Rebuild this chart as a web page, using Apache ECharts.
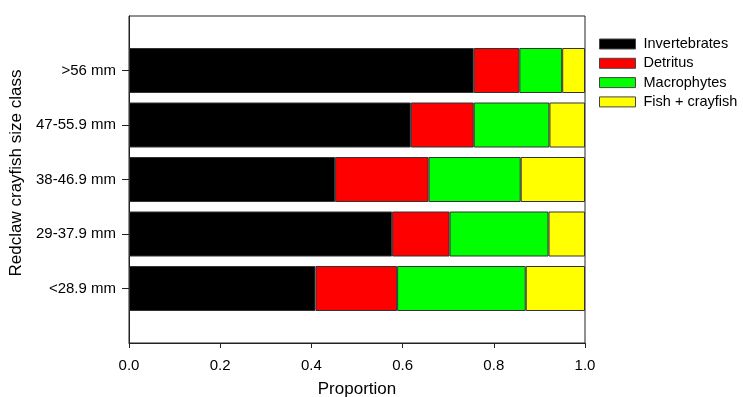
<!DOCTYPE html>
<html><head><meta charset="utf-8">
<script src="https://cdn.jsdelivr.net/npm/echarts@6/dist/echarts.min.js"></script>
<style>html,body{margin:0;padding:0;background:#fff}#c{width:743px;height:397px}</style>
</head><body><div id="c"></div>
<script>
const categories = ['', '<28.9 mm', '29-37.9 mm', '38-46.9 mm', '47-55.9 mm', '>56 mm', ''];
const invertebrates = [null, 0.409, 0.577, 0.452, 0.618, 0.756, null];
const detritus      = [null, 0.179, 0.126, 0.205, 0.138, 0.100, null];
const macrophytes   = [null, 0.282, 0.217, 0.202, 0.166, 0.094, null];
const fishCrayfish  = [null, 0.130, 0.080, 0.141, 0.078, 0.050, null];
const xTicks = [0, 0.2, 0.4, 0.6, 0.8, 1.0];
const seriesNames = ['Invertebrates', 'Detritus', 'Macrophytes', 'Fish + crayfish'];
const seriesData = [invertebrates, detritus, macrophytes, fishCrayfish];
const colors = ['#000000', '#ff0000', '#00ff00', '#ffff00'];

const chart = echarts.init(document.getElementById('c'));
const font = 'Liberation Sans, Arial, sans-serif';
chart.setOption({
  animation: false,
  textStyle: { fontFamily: font },
  grid: { left: 129, right: 158, top: 16, bottom: 54, show: true, borderColor: '#222', borderWidth: 1,
          containLabel: false, outerBoundsMode: 'none' },
  legend: {
    orient: 'vertical', left: 599, top: 36.5, padding: 0, itemWidth: 36, itemHeight: 10, itemGap: 4.3,
    icon: 'rect', itemStyle: { borderColor: '#444', borderWidth: 1 },
    textStyle: { fontSize: 14.5, lineHeight: 15, color: '#000', fontFamily: font, padding: [0, 0, 0, 3] },
    data: seriesNames
  },
  xAxis: {
    type: 'value', min: 0, max: 1, interval: 0.2,
    name: 'Proportion', nameLocation: 'middle', nameGap: 38,
    nameTextStyle: { fontSize: 17, color: '#000', fontFamily: font },
    axisLine: { show: true, lineStyle: { color: '#222' } },
    axisTick: { show: true, length: 5, lineStyle: { color: '#222' } },
    axisLabel: { fontSize: 15, color: '#000', margin: 15, formatter: v => xTicks.includes(Math.round(v*10)/10) ? v.toFixed(1) : '' },
    splitLine: { show: false }
  },
  yAxis: {
    type: 'category', data: categories, boundaryGap: false,
    name: 'Redclaw crayfish size class', nameLocation: 'middle', nameGap: 96,
    nameTextStyle: { fontSize: 17, color: '#000', fontFamily: font, padding: [0, 0, 0, 13] },
    axisLine: { show: true, lineStyle: { color: '#222' } },
    axisTick: { show: true, length: 7, lineStyle: { color: '#222' }, interval: (i, v) => v !== '' },
    axisLabel: { fontSize: 15, color: '#000', margin: 13, interval: 0 },
    splitLine: { show: false }
  },
  series: seriesNames.map((n, i) => ({
    name: n, type: 'bar', stack: 'total', data: seriesData[i], barWidth: 45,
    itemStyle: { color: colors[i], borderColor: '#333', borderWidth: 1 }
  }))
});
</script></body></html>
